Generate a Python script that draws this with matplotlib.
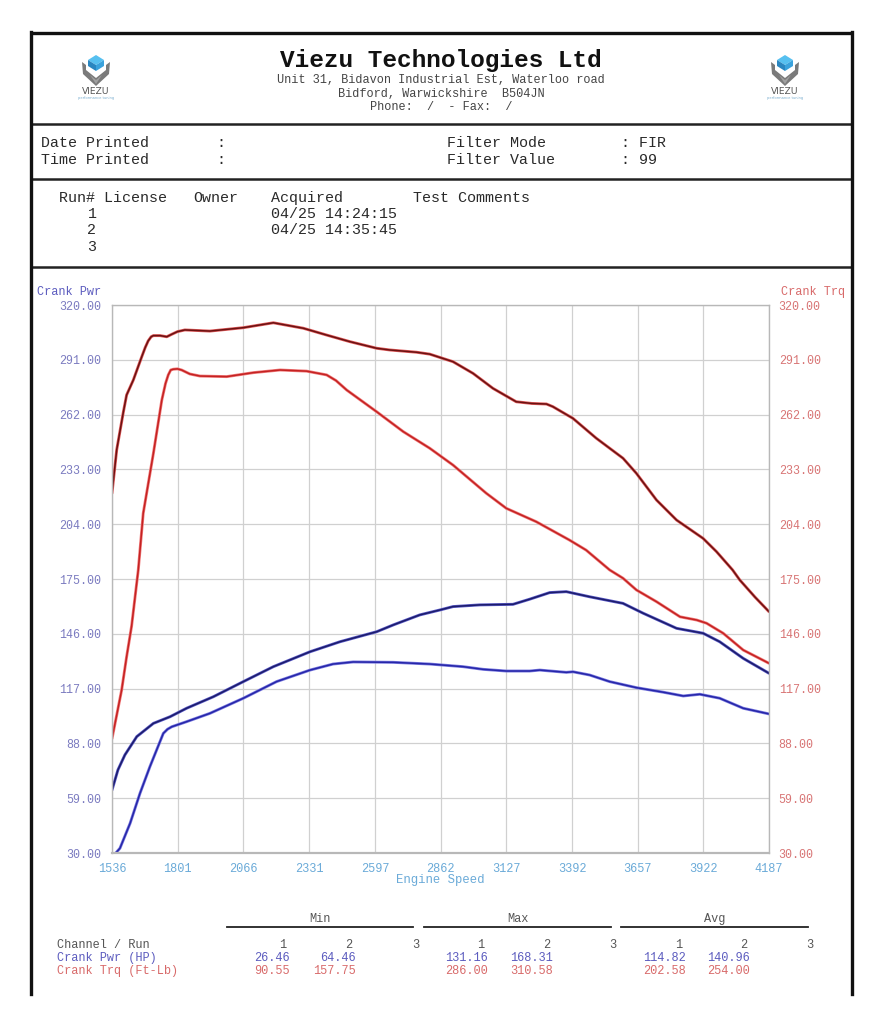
import matplotlib
matplotlib.use("Agg")
import matplotlib.pyplot as plt
import matplotlib.patheffects as pe
from matplotlib.patches import Polygon

# ---------------- data ----------------
rpm_ticks = [1536, 1801, 2066, 2331, 2597, 2862, 3127, 3392, 3657, 3922, 4187]
y_ticks = [30, 59, 88, 117, 146, 175, 204, 233, 262, 291, 320]

trq2_rpm = [1536, 1555, 1582, 1595, 1622, 1656, 1670, 1682, 1694, 1703, 1730, 1757, 1777, 1800,
            1830, 1931, 2066, 2187, 2308, 2402, 2496, 2604, 2657, 2765, 2818, 2912, 2993, 3073,
            3167, 3230, 3289, 3315, 3396, 3490, 3598, 3652, 3733, 3814, 3921, 3975, 4040, 4069,
            4130, 4187]
trq2_val = [220.4, 243.4, 263.5, 272.4, 280.3, 292.6, 297.5, 301.0, 303.2, 303.8, 303.8, 303.2,
            304.5, 305.9, 306.8, 306.2, 308.0, 310.6, 307.7, 304.1, 300.6, 297.1, 296.2, 295.0,
            294.0, 290.0, 283.8, 275.9, 268.8, 267.9, 267.6, 266.2, 260.0, 249.5, 238.9, 230.9,
            216.8, 206.2, 196.5, 189.5, 179.8, 174.5, 165.5, 157.7]

trq1_rpm = [1536, 1555, 1575, 1595, 1615, 1642, 1662, 1703, 1737, 1752, 1763, 1773, 1783, 1800,
            1817, 1850, 1891, 1999, 2106, 2214, 2321, 2402, 2440, 2483, 2604, 2711, 2818, 2912,
            3046, 3127, 3248, 3382, 3449, 3544, 3598, 3652, 3733, 3828, 3895, 3935, 4002, 4083,
            4187]
trq1_val = [90.5, 103.0, 116.3, 133.9, 150.0, 179.8, 209.8, 241.5, 269.7, 278.5, 283.0, 285.6,
            286.0, 286.2, 285.6, 283.5, 282.4, 282.1, 284.2, 285.6, 285.0, 283.0, 280.0, 275.0,
            263.5, 253.0, 244.2, 235.3, 220.4, 212.4, 205.3, 195.6, 190.3, 179.8, 175.4, 169.2,
            163.0, 155.0, 153.3, 151.6, 146.3, 137.4, 130.4]

pwr2_rpm = [1536, 1560, 1588, 1636, 1703, 1770, 1837, 1945, 2066, 2187, 2335, 2456, 2604, 2671,
            2778, 2859, 2912, 3020, 3154, 3221, 3302, 3369, 3463, 3598, 3679, 3814, 3921, 3988,
            4083, 4187]
pwr2_val = [63.3, 74.0, 81.9, 91.6, 98.6, 102.1, 106.6, 112.7, 120.7, 128.6, 136.5, 141.8,
            147.1, 150.7, 156.0, 158.6, 160.4, 161.3, 161.6, 164.3, 167.8, 168.3, 165.6, 162.1,
            156.9, 148.9, 146.3, 141.8, 133.0, 125.1]

pwr1_rpm = [1536, 1550, 1568, 1609, 1649, 1689, 1743, 1760, 1777, 1837, 1931, 2066, 2200, 2335,
            2428, 2509, 2671, 2818, 2953, 3033, 3127, 3221, 3262, 3369, 3396, 3463, 3544, 3652,
            3760, 3841, 3908, 3988, 4083, 4187]
pwr1_val = [29.5, 29.8, 32.5, 45.7, 61.6, 75.7, 93.3, 95.5, 96.8, 99.5, 103.9, 111.9, 120.7,
            126.8, 130.0, 131.1, 130.9, 130.0, 128.6, 127.2, 126.3, 126.3, 126.8, 125.6, 125.9,
            124.2, 120.7, 117.5, 115.1, 113.1, 114.0, 111.9, 106.6, 103.6]

stat_runs = ["1", "2", "3"]
pwr_min = ["26.46", "64.46", ""]
pwr_max = ["131.16", "168.31", ""]
pwr_avg = ["114.82", "140.96", ""]
trq_min = ["90.55", "157.75", ""]
trq_max = ["286.00", "310.58", ""]
trq_avg = ["202.58", "254.00", ""]

# ---------------- figure ----------------
W, H = 876, 1024
fig = plt.figure(figsize=(W / 100, H / 100), dpi=100)
fig.patch.set_facecolor("white")

ov = fig.add_axes([0, 0, 1, 1])
ov.set_xlim(0, W)
ov.set_ylim(H, 0)
ov.axis("off")

MONO = "Liberation Mono"

# frame lines
ov.plot([30, 853], [33, 33], color="#111111", lw=2.4, solid_capstyle="butt")
for yy in (124, 179, 267):
    ov.plot([31, 852], [yy, yy], color="#222222", lw=1.8)
ov.plot([31, 31], [32, 994], color="#111111", lw=2.4)
ov.plot([852, 852], [32, 994], color="#111111", lw=2.4)


def logo(cx, cy):
    # blue cube top
    ov.add_patch(Polygon([[cx, cy - 16], [cx + 8, cy - 11], [cx, cy - 6], [cx - 8, cy - 11]],
                         closed=True, fc="#56c0f0", ec="none"))
    ov.add_patch(Polygon([[cx - 8, cy - 11], [cx, cy - 6], [cx, cy], [cx - 8, cy - 5]],
                         closed=True, fc="#2a86c0", ec="none"))
    ov.add_patch(Polygon([[cx + 8, cy - 11], [cx, cy - 6], [cx, cy], [cx + 8, cy - 5]],
                         closed=True, fc="#3aa2dc", ec="none"))
    # grey chevron
    ov.add_patch(Polygon([[cx - 14, cy - 9], [cx - 10, cy - 6], [cx - 10, cy - 1], [cx, cy + 7],
                          [cx + 10, cy - 1], [cx + 10, cy - 6], [cx + 14, cy - 9],
                          [cx + 13, cy + 3], [cx, cy + 15], [cx - 13, cy + 3]],
                         closed=True, fc="#7a7a7a", ec="none"))
    ov.add_patch(Polygon([[cx - 6, cy + 4], [cx, cy + 9], [cx + 6, cy + 4], [cx, cy + 13]],
                         closed=True, fc="#a0a0a0", ec="none"))
    ov.text(cx, cy + 21, "VIEZU", ha="center", va="center", fontsize=6.6,
            color="#555555", family="DejaVu Sans")
    ov.text(cx, cy + 27, "performance tuning", ha="center", va="center", fontsize=2.6,
            color="#7aaed0", family="DejaVu Sans")


logo(96, 71)
logo(785, 71)

ov.text(441, 60, "Viezu Technologies Ltd", ha="center", va="center", fontsize=17.6,
        fontweight="bold", family=MONO, color="#111111")
for yy, s in [(80, "Unit 31, Bidavon Industrial Est, Waterloo road"),
              (94, "Bidford, Warwickshire  B504JN"),
              (107, "Phone:  /  - Fax:  /")]:
    ov.text(441, yy, s, ha="center", va="center", fontsize=8.6, family=MONO, color="#444444")

info = dict(va="center", fontsize=10.8, family=MONO, color="#2a2a2a")
ov.text(41, 143, "Date Printed", **info)
ov.text(41, 160, "Time Printed", **info)
ov.text(216, 143, ":", **info)
ov.text(216, 160, ":", **info)
ov.text(447, 143, "Filter Mode", **info)
ov.text(447, 160, "Filter Value", **info)
ov.text(621, 143, ": FIR", **info)
ov.text(621, 160, ": 99", **info)

ov.text(59, 198, "Run# License", **info)
ov.text(193, 198, "Owner", **info)
ov.text(271, 198, "Acquired", **info)
ov.text(413, 198, "Test Comments", **info)
ov.text(92, 214, "1", ha="center", **info)
ov.text(92, 230, "2", ha="center", **info)
ov.text(92, 247, "3", ha="center", **info)
ov.text(271, 214, "04/25 14:24:15", **info)
ov.text(271, 230, "04/25 14:35:45", **info)

PWR_C = "#5c5cbf"
TRQ_C = "#d86a6a"
ov.text(37, 292, "Crank Pwr", va="center", fontsize=8.6, family=MONO, color=PWR_C)
ov.text(845, 292, "Crank Trq", va="center", ha="right", fontsize=8.6, family=MONO, color=TRQ_C)
ov.text(440, 880, "Engine Speed", va="center", ha="center", fontsize=8.8, family=MONO,
        color="#6aaad8")

# ---------------- chart ----------------
ax = fig.add_axes([112 / W, 1 - 853 / H, (769 - 112) / W, (853 - 305) / H])
ax.set_xlim(rpm_ticks[0], rpm_ticks[-1])
ax.set_ylim(y_ticks[0], y_ticks[-1])
ax.set_xticks(rpm_ticks)
ax.set_xticklabels([str(v) for v in rpm_ticks], family=MONO, fontsize=8.6, color="#6aaad8")
ax.set_yticks(y_ticks)
ax.set_yticklabels(["%.2f" % v for v in y_ticks], family=MONO, fontsize=8.4, color="#7b7bc0")
ax.tick_params(axis="both", length=0)
ax.tick_params(axis="x", pad=7)
ax.tick_params(axis="y", pad=8)
ax.grid(True, color="#d0d0d0", lw=0.9)
for sp in ax.spines.values():
    sp.set_color("#b8b8b8")
    sp.set_linewidth(1.0)
ax.spines["bottom"].set_linewidth(1.6)

ax2 = ax.twinx()
ax2.set_ylim(y_ticks[0], y_ticks[-1])
ax2.set_yticks(y_ticks)
ax2.set_yticklabels(["%.2f" % v for v in y_ticks], family=MONO, fontsize=8.4, color="#d87575")
ax2.tick_params(axis="y", length=0, pad=7)
for sp in ax2.spines.values():
    sp.set_visible(False)

kw = dict(lw=1.1, solid_joinstyle="round", solid_capstyle="round")
ax.plot(trq2_rpm, trq2_val, color="#6a1212",
        path_effects=[pe.Stroke(linewidth=2.1, foreground="#e05a5a"), pe.Normal()], **kw)
ax.plot(trq1_rpm, trq1_val, color="#c42222",
        path_effects=[pe.Stroke(linewidth=2.1, foreground="#f07a7a"), pe.Normal()], **kw)
ax.plot(pwr2_rpm, pwr2_val, color="#1c1c6a",
        path_effects=[pe.Stroke(linewidth=2.1, foreground="#5a5ac8"), pe.Normal()], **kw)
ax.plot(pwr1_rpm, pwr1_val, color="#2626a8",
        path_effects=[pe.Stroke(linewidth=2.1, foreground="#7a7ae0"), pe.Normal()], **kw)

# ---------------- stats table ----------------
tab = dict(va="center", fontsize=8.6, family=MONO)
groups = [("Min", 227, 413, [286, 352, 419], [290, 356], pwr_min, trq_min),
          ("Max", 424, 611, [484, 550, 616], [488, 553], pwr_max, trq_max),
          ("Avg", 621, 808, [682, 747, 813], [686, 750], pwr_avg, trq_avg)]
for name, x0, x1, run_x, val_x, pv, tv in groups:
    ov.text((x0 + x1) / 2, 919, name, ha="center", color="#555555", **tab)
    ov.plot([x0, x1], [927, 927], color="#222222", lw=1.3)
    for rx, r in zip(run_x, stat_runs):
        ov.text(rx, 945, r, ha="right", color="#555555", **tab)
    for vx, p, t in zip(val_x, pv, tv):
        ov.text(vx, 958, p, ha="right", color=PWR_C, **tab)
        ov.text(vx, 971, t, ha="right", color=TRQ_C, **tab)
ov.text(57, 945, "Channel / Run", color="#555555", **tab)
ov.text(57, 958, "Crank Pwr (HP)", color=PWR_C, **tab)
ov.text(57, 971, "Crank Trq (Ft-Lb)", color=TRQ_C, **tab)

fig.savefig("out.png", dpi=100, facecolor="white")
